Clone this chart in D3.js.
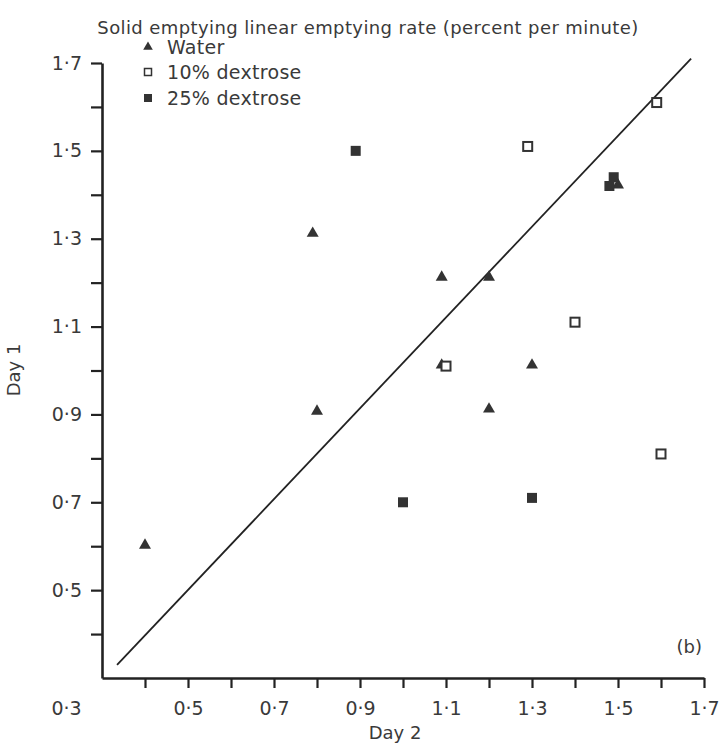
<html lang="en">
<head>
<meta charset="UTF-8">
<script src="https://d3js.org/d3.v7.min.js"></script>
<title>Solid emptying</title>
<style>
  body { margin: 0; background: #fff; }
  text { font-family: "DejaVu Sans", sans-serif; fill: #3a3a3a; }
  .axis path, .axis line { stroke: #222; }
</style>
<script>
// values
var waterX = [0.4, 0.79, 0.8, 1.09, 1.09, 1.2, 1.2, 1.3, 1.5];
var waterY = [0.6, 1.31, 0.905, 1.21, 1.01, 1.21, 0.91, 1.01, 1.42];
var dex10X = [1.1, 1.29, 1.4, 1.59, 1.6];
var dex10Y = [1.01, 1.51, 1.11, 1.61, 0.81];
var dex25X = [0.89, 1.0, 1.3, 1.48, 1.49];
var dex25Y = [1.5, 0.7, 0.71, 1.42, 1.44];
var lineX = [0.335, 1.67];
var lineY = [0.33, 1.71];
var tickValues = [0.4,0.5,0.6,0.7,0.8,0.9,1.0,1.1,1.2,1.3,1.4,1.5,1.6,1.7];
var xLabels = {"0.3":"0·3","0.5":"0·5","0.7":"0·7","0.9":"0·9","1.1":"1·1","1.3":"1·3","1.5":"1·5","1.7":"1·7"};
var yLabels = {"0.5":"0·5","0.7":"0·7","0.9":"0·9","1.1":"1·1","1.3":"1·3","1.5":"1·5","1.7":"1·7"};
var legendNames = ["Water", "10% dextrose", "25% dextrose"];

function main(){
  var svg = d3.select("svg");
  var x = d3.scaleLinear().domain([0.3, 1.7]).range([102, 704]);
  var y = d3.scaleLinear().domain([0.3, 1.7]).range([678, 63]);
  var key = function(v){ return String(Math.round(v*10)/10); };

  svg.append("text").attr("x", 368).attr("y", 34).attr("text-anchor", "middle")
     .style("font-size", "18px").style("letter-spacing", "0.4px")
     .text("Solid emptying linear emptying rate (percent per minute)");

  // x axis
  var gx = svg.append("g").attr("class", "axis").attr("transform", "translate(0,678)")
     .call(d3.axisBottom(x).tickValues([0.3].concat(tickValues)).tickSize(10).tickSizeOuter(0)
       .tickFormat(function(d){ return xLabels[key(d)] || ""; }));
  gx.select(".domain").attr("stroke-width", 2.6);
  gx.selectAll(".tick line").attr("stroke-width", 2.2);
  gx.selectAll(".tick").filter(function(d){ return d === 0.3; }).select("line").remove();
  gx.selectAll(".tick").filter(function(d){ return d === 0.3; }).select("text").attr("dx", -36);
  gx.selectAll(".tick text").attr("y", 24).style("font-size", "19px").attr("fill", "#3a3a3a");

  // y axis
  var gy = svg.append("g").attr("class", "axis").attr("transform", "translate(102,0)")
     .call(d3.axisLeft(y).tickValues(tickValues).tickSize(11).tickSizeOuter(0)
       .tickFormat(function(d){ return yLabels[key(d)] || ""; }));
  gy.select(".domain").attr("stroke-width", 2.6);
  gy.selectAll(".tick line").attr("stroke-width", 2.2);
  gy.selectAll(".tick text").attr("x", -20).style("font-size", "19px").attr("fill", "#3a3a3a");

  svg.append("text").attr("x", 395).attr("y", 739).attr("text-anchor", "middle")
     .style("font-size", "18px").text("Day 2");
  svg.append("text").attr("transform", "translate(20,370) rotate(-90)").attr("text-anchor", "middle")
     .style("font-size", "18px").text("Day 1");
  svg.append("text").attr("x", 702).attr("y", 653).attr("text-anchor", "end")
     .style("font-size", "18px").text("(b)");

  // line
  svg.append("line").attr("x1", x(lineX[0])).attr("y1", y(lineY[0]))
     .attr("x2", x(lineX[1])).attr("y2", y(lineY[1]))
     .attr("stroke", "#222").attr("stroke-width", 1.8);

  var tri = d3.symbol().type(d3.symbolTriangle).size(62);
  var g = svg.append("g");
  g.selectAll(".water").data(d3.range(waterX.length)).enter().append("path")
     .attr("d", tri).attr("fill", "#333")
     .attr("transform", function(i){ return "translate(" + x(waterX[i]) + "," + (y(waterY[i]) - 1) + ")"; });
  g.selectAll(".d10").data(d3.range(dex10X.length)).enter().append("rect")
     .attr("x", function(i){ return x(dex10X[i]) - 4.5; }).attr("y", function(i){ return y(dex10Y[i]) - 4.5; })
     .attr("width", 9).attr("height", 9).attr("fill", "#fff").attr("stroke", "#333").attr("stroke-width", 2);
  g.selectAll(".d25").data(d3.range(dex25X.length)).enter().append("rect")
     .attr("x", function(i){ return x(dex25X[i]) - 5; }).attr("y", function(i){ return y(dex25Y[i]) - 5; })
     .attr("width", 10).attr("height", 10).attr("fill", "#333");

  // legend
  var lg = svg.append("g").attr("transform", "translate(148,0)");
  var rows = [47, 72, 98];
  lg.append("path").attr("d", d3.symbol().type(d3.symbolTriangle).size(40)).attr("fill", "#333")
     .attr("transform", "translate(0," + rows[0] + ")");
  lg.append("rect").attr("x", -3.5).attr("y", rows[1] - 3.5).attr("width", 7).attr("height", 7)
     .attr("fill", "#fff").attr("stroke", "#333").attr("stroke-width", 1.5);
  lg.append("rect").attr("x", -4).attr("y", rows[2] - 4).attr("width", 8).attr("height", 8).attr("fill", "#333");
  lg.selectAll(".lt").data(legendNames).enter().append("text")
     .attr("x", 19).attr("y", function(d, i){ return rows[i] + 7; })
     .style("font-size", "19px").style("letter-spacing", "0.3px").text(function(d){ return d; });
}
</script>
</head>
<body onload="main();">
<svg width="721" height="745"></svg>
</body>
</html>
